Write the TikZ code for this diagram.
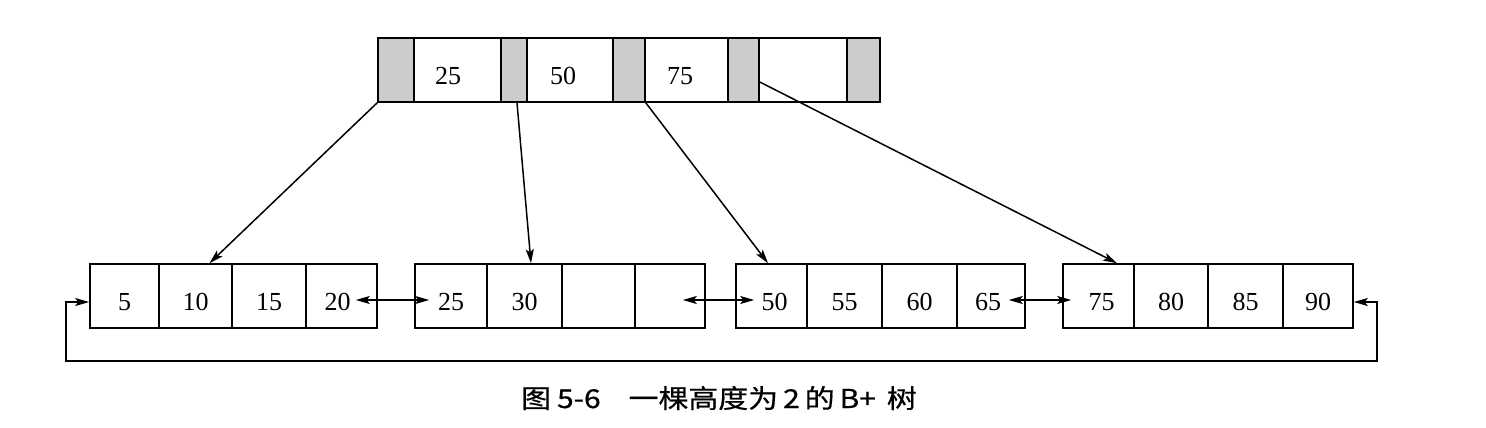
\documentclass[tikz,border=0pt]{standalone}
\usepackage{fontspec}
\setmainfont{Liberation Serif}
\newfontfamily\cjk[FakeStretch=1.15,FakeBold=0.6]{Noto Sans CJK SC}
\usetikzlibrary{arrows.meta}
\begin{document}
\begin{tikzpicture}[x=1pt,y=-1pt,
  cell/.style={draw, line width=1.6pt, minimum height=64pt, inner sep=0pt,
    font=\fontsize{26}{26}\selectfont, text height=29pt, text depth=0pt},
  ptr/.style={cell, fill=black!20},
  tip/.tip={Stealth[length=14pt,width=8pt,inset=3pt]},
  conn/.style={line width=1.5pt, -tip},
  dconn/.style={line width=1.5pt, tip-tip}]
\path[use as bounding box, fill=white] (0,0) rectangle (1486,428);
% top node
\node[ptr, minimum width=36pt] (t1) at (396,70) {};
\node[cell, minimum width=87pt] (t2) at (457.5,70) {25\kern19pt};
\node[ptr, minimum width=26pt] (t3) at (514,70) {};
\node[cell, minimum width=86pt] (t4) at (570,70) {50\kern14pt};
\node[ptr, minimum width=32pt] (t5) at (629,70) {};
\node[cell, minimum width=83pt] (t6) at (686.5,70) {75\kern13pt};
\node[ptr, minimum width=31pt] (t7) at (743.5,70) {};
\node[cell, minimum width=88pt] (t8) at (803,70) {};
\node[ptr, minimum width=33pt] (t9) at (863.5,70) {};
% leaf 1
\node[cell, minimum width=69pt] (a1) at (124.5,296) {5};
\node[cell, minimum width=73pt] (a2) at (195.5,296) {10};
\node[cell, minimum width=74pt] (a3) at (269,296) {15};
\node[cell, minimum width=71pt] (a4) at (341.5,296) {20\kern8pt};
% leaf 2
\node[cell, minimum width=72pt] (b1) at (451,296) {25};
\node[cell, minimum width=75pt] (b2) at (524.5,296) {30};
\node[cell, minimum width=74pt] (b3) at (598.5,296) {};
\node[cell, minimum width=70pt] (b4) at (670,296) {};
% leaf 3
\node[cell, minimum width=71pt] (c1) at (771.5,296) {\kern6pt 50};
\node[cell, minimum width=75pt] (c2) at (844.5,296) {55};
\node[cell, minimum width=75pt] (c3) at (919.5,296) {60};
\node[cell, minimum width=68pt] (c4) at (991,296) {65\kern6pt};
% leaf 4
\node[cell, minimum width=71pt] (d1) at (1098.5,296) {\kern6pt 75};
\node[cell, minimum width=74pt] (d2) at (1171,296) {80};
\node[cell, minimum width=75pt] (d3) at (1245.5,296) {85};
\node[cell, minimum width=70pt] (d4) at (1318,296) {90};
% pointers from root
\draw[conn] (t1.south west) -- ([xshift=14pt]a2.north);
\draw[conn] ([xshift=3pt]t3.south) -- ([xshift=6.5pt]b2.north);
\draw[conn] (t5.south east) -- ([xshift=-3.5pt]c1.north);
\draw[conn] ([yshift=-12pt]t7.east) -- ([xshift=18.5pt]d1.north);
% sibling links
\draw[dconn] ([xshift=-22pt,yshift=-4pt]a4.east) -- ([xshift=15pt,yshift=-4pt]b1.west);
\draw[dconn] ([xshift=-23pt,yshift=-4pt]b4.east) -- ([xshift=19pt,yshift=-4pt]c1.west);
\draw[dconn] ([xshift=-17pt,yshift=-4pt]c4.east) -- ([xshift=9pt,yshift=-4pt]d1.west);
% loop
\draw[dconn] ([yshift=-6pt]a1.west) -- ++(-23,0) -- ++(0,59)
  -| ([xshift=23pt,yshift=-6pt]d4.east) -- ([yshift=-6pt]d4.east);
% caption
\node[anchor=base west, inner sep=0pt] (cap) at (521,408)
  {\cjk\fontsize{26}{26}\selectfont 图\hspace{6pt}5-6\hspace{28pt}一棵高度为\hspace{5pt}2\hspace{5pt}的\hspace{5pt}B+\hspace{11pt}树};
\end{tikzpicture}
\end{document}
